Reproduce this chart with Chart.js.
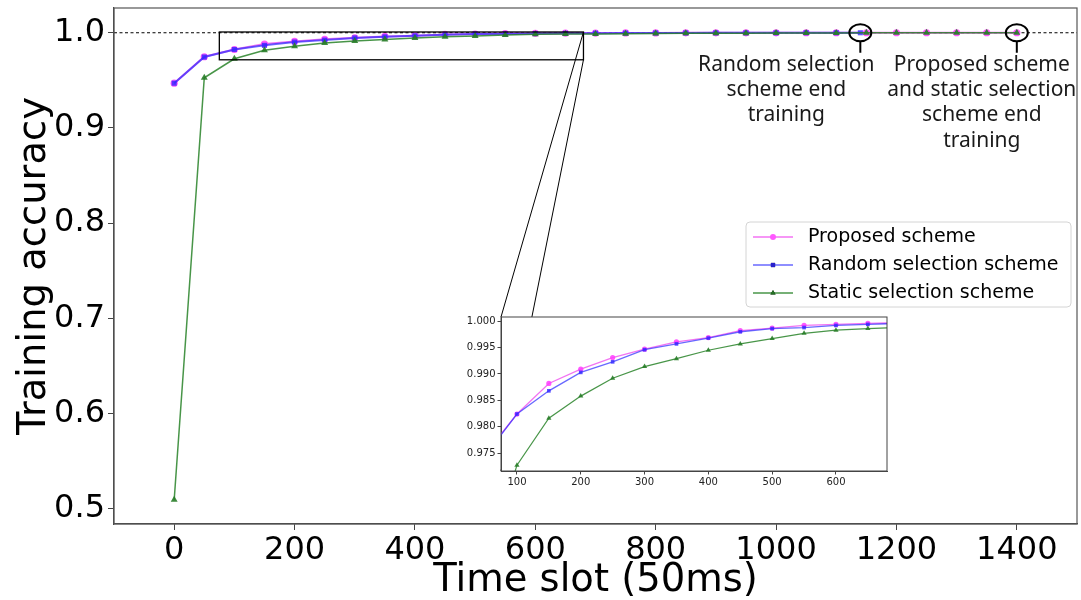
<!DOCTYPE html>
<html lang="en">
<head>
<meta charset="UTF-8">
<title>Training accuracy</title>
<script src="https://cdn.jsdelivr.net/npm/chart.js"></script>
<style>
  body { margin: 0; background: #fff; }
  #wrap { position: relative; width: 1081px; height: 600px; }
  #mainChart { position: absolute; left: 0; top: 0; }
  #insetChart { position: absolute; left: 451px; top: 310px; }
</style>
</head>
<body>
<div id="wrap">
  <canvas id="mainChart" width="1081" height="600"></canvas>
  <canvas id="insetChart" width="440" height="185"></canvas>
</div>
<script>
// time slots (50ms) for each series
const proposedSlots = [0, 50, 100, 150, 200, 250, 300, 350, 400, 450, 500, 550, 600, 650, 700,
  750, 800, 850, 900, 950, 1000, 1050, 1100, 1150, 1200, 1250, 1300, 1350, 1400];
const randomSlots = [0, 50, 100, 150, 200, 250, 300, 350, 400, 450, 500, 550, 600, 650, 700,
  750, 800, 850, 900, 950, 1000, 1050, 1100, 1140];
const staticSlots = proposedSlots;

// training accuracy
const proposed = [0.9470, 0.9748, 0.9824, 0.9882, 0.9909, 0.9931, 0.9947, 0.9961, 0.9969, 0.9982,
  0.9987, 0.9992, 0.9994, 0.9996, 0.9997, 0.9998, 0.9998, 0.9999, 0.9999, 0.9999, 0.9999, 1.0000,
  1.0000, 1.0000, 1.0000, 1.0000, 1.0000, 1.0000, 1.0000];
const randomSel = [0.9470, 0.9745, 0.9824, 0.9868, 0.9903, 0.9923, 0.9946, 0.9957, 0.9968, 0.9980,
  0.9986, 0.9988, 0.9992, 0.9994, 0.9996, 0.9997, 0.9998, 0.9998, 0.9999, 0.9999, 0.9999, 1.0000,
  1.0000, 1.0000];
const staticSel = [0.5095, 0.9527, 0.9727, 0.9816, 0.9858, 0.9892, 0.9914, 0.9929, 0.9945, 0.9957,
  0.9967, 0.9977, 0.9983, 0.9986, 0.9988, 0.9990, 0.9992, 0.9994, 0.9995, 0.9996, 0.9997, 0.9998,
  0.9998, 0.9999, 0.9999, 0.9999, 1.0000, 1.0000, 1.0000];

const seriesNames = ['Proposed scheme', 'Random selection scheme', 'Static selection scheme'];

const xTicks = [0, 200, 400, 600, 800, 1000, 1200, 1400];
const yTicks = [0.5, 0.6, 0.7, 0.8, 0.9, 1.0];
const insetXTicks = [100, 200, 300, 400, 500, 600];
const insetYTicks = [0.975, 0.980, 0.985, 0.990, 0.995, 1.000];

// zoomed region shown in the inset
const zoomX = [75, 680];
const zoomY = [0.9716, 1.0008];

// end of training markers
const endNotes = [
  { x: 1140, y: 1.0, lines: ['Random selection', 'scheme end', 'training'], dx: -74 },
  { x: 1400, y: 1.0, lines: ['Proposed scheme', 'and static selection', 'scheme end', 'training'], dx: -35 }
];

const pts = (xs, ys) => ys.map((v, i) => ({ x: xs[i], y: v }));

function makeDatasets(small) {
  const r = small ? 2.6 : 3.6;
  return [
    {
      label: seriesNames[0], data: pts(proposedSlots, proposed),
      borderColor: 'rgba(240, 90, 240, 0.85)', backgroundColor: 'rgba(255, 60, 255, 0.85)',
      pointStyle: 'circle', pointRadius: r, pointBorderWidth: 0,
      borderWidth: small ? 1.3 : 2, order: 3
    },
    {
      label: seriesNames[1], data: pts(randomSlots, randomSel),
      borderColor: 'rgba(40, 40, 255, 0.7)', backgroundColor: 'rgba(50, 40, 255, 0.8)',
      pointStyle: 'rect', pointRadius: r, pointBorderWidth: 0,
      borderWidth: small ? 1.3 : 2, order: 2
    },
    {
      label: seriesNames[2], data: pts(staticSlots, staticSel),
      borderColor: 'rgba(40, 130, 40, 0.85)', backgroundColor: 'rgba(40, 125, 40, 0.9)',
      pointStyle: 'triangle', pointRadius: small ? 3 : 4, pointBorderWidth: 0,
      borderWidth: small ? 1.2 : 1.5, order: 1
    }
  ];
}

// drop the extra room Chart.js keeps for labels at the axis ends
function noEdgePadding(s) {
  s.paddingTop = 0; s.paddingBottom = 0; s.paddingLeft = 0; s.paddingRight = 0;
}

// ---------- inset ----------
const insetFrame = {
  id: 'insetFrame',
  beforeDraw(chart) {
    const a = chart.chartArea, ctx = chart.ctx;
    ctx.save();
    ctx.fillStyle = '#fff';
    ctx.fillRect(a.left, a.top, a.right - a.left, a.bottom - a.top);
    ctx.restore();
  },
  afterDraw(chart) {
    const a = chart.chartArea, ctx = chart.ctx;
    ctx.save();
    ctx.strokeStyle = '#444';
    ctx.lineWidth = 1;
    ctx.strokeRect(a.left, a.top, a.right - a.left, a.bottom - a.top);
    ctx.restore();
  }
};

const insetChart = new Chart(document.getElementById('insetChart'), {
  type: 'line',
  data: { datasets: makeDatasets(true) },
  options: {
    responsive: false,
    animation: false,
    layout: { padding: { top: 7, right: 4, left: 0, bottom: 0 } },
    plugins: { legend: { display: false }, tooltip: { enabled: false } },
    scales: {
      x: {
        type: 'linear', min: zoomX[0], max: zoomX[1],
        afterBuildTicks: s => { s.ticks = insetXTicks.map(v => ({ value: v })); },
        afterFit: s => { s.height = 24; noEdgePadding(s); },
        ticks: { font: { family: 'DejaVu Sans', size: 10 }, color: '#222', padding: 2, maxRotation: 0,
          callback: v => String(v) },
        grid: { drawOnChartArea: false, tickLength: 3.5, color: '#444' },
        border: { color: '#444' }
      },
      y: {
        type: 'linear', min: zoomY[0], max: zoomY[1],
        afterBuildTicks: s => { s.ticks = insetYTicks.map(v => ({ value: v })); },
        afterFit: s => { s.width = 50; noEdgePadding(s); },
        ticks: { font: { family: 'DejaVu Sans', size: 10 }, color: '#222', padding: 2,
          callback: v => v.toFixed(3) },
        grid: { drawOnChartArea: false, tickLength: 3.5, color: '#444' },
        border: { color: '#444' }
      }
    }
  },
  plugins: [insetFrame]
});

// ---------- main chart ----------
const mainExtras = {
  id: 'mainExtras',
  beforeDatasetsDraw(chart) {
    const { ctx, chartArea: a, scales: { y } } = chart;
    const yy = y.getPixelForValue(1.0);
    ctx.save();
    ctx.strokeStyle = '#000';
    ctx.lineWidth = 1;
    ctx.setLineDash([3, 2.5]);
    ctx.beginPath();
    ctx.moveTo(a.left, yy);
    ctx.lineTo(a.right, yy);
    ctx.stroke();
    ctx.restore();
  },
  afterDraw(chart) {
    const { ctx, chartArea: a, scales: { x, y } } = chart;
    ctx.save();

    // top/right spines
    ctx.strokeStyle = '#555';
    ctx.lineWidth = 1.2;
    ctx.strokeRect(a.left, a.top, a.right - a.left, a.bottom - a.top);

    // zoom box and connectors to the inset
    const bx0 = x.getPixelForValue(zoomX[0]), bx1 = x.getPixelForValue(zoomX[1]);
    const by0 = y.getPixelForValue(zoomY[1]), by1 = y.getPixelForValue(zoomY[0]);
    ctx.strokeStyle = '#000';
    ctx.lineWidth = 1.3;
    ctx.strokeRect(bx0, by0, bx1 - bx0, by1 - by0);
    const ic = insetChart.canvas, ia = insetChart.chartArea;
    const il = ic.offsetLeft + ia.left, it = ic.offsetTop + ia.top, ib = ic.offsetTop + ia.bottom;
    ctx.lineWidth = 1;
    ctx.beginPath();
    ctx.moveTo(bx1, by0); ctx.lineTo(il, it);
    ctx.moveTo(bx1, by1); ctx.lineTo(il, ib);
    ctx.stroke();

    // end-of-training circles and notes
    endNotes.forEach(n => {
      const px = x.getPixelForValue(n.x), py = y.getPixelForValue(n.y);
      ctx.strokeStyle = '#000';
      ctx.lineWidth = 2;
      ctx.beginPath();
      ctx.ellipse(px, py, 11, 8.5, 0, 0, Math.PI * 2);
      ctx.stroke();
      ctx.beginPath();
      ctx.moveTo(px, py + 8.5);
      ctx.lineTo(px, py + 20);
      ctx.stroke();
      ctx.fillStyle = '#1a1a1a';
      ctx.font = '21px "Noto Sans"';
      ctx.textAlign = 'center';
      ctx.textBaseline = 'middle';
      n.lines.forEach((t, i) => ctx.fillText(t, px + n.dx, py + 32 + i * 25.3));
    });

    // legend
    const lx = 746, ly = 222, lw = 325, lh = 85;
    ctx.fillStyle = 'rgba(255,255,255,0.85)';
    ctx.strokeStyle = '#d4d4d4';
    ctx.lineWidth = 1;
    ctx.beginPath();
    ctx.roundRect(lx, ly, lw, lh, 4);
    ctx.fill();
    ctx.stroke();
    chart.data.datasets.forEach((ds, i) => {
      const ry = ly + 15 + i * 28;
      ctx.strokeStyle = ds.borderColor;
      ctx.lineWidth = 1.5;
      ctx.beginPath();
      ctx.moveTo(lx + 7, ry); ctx.lineTo(lx + 47, ry);
      ctx.stroke();
      Chart.helpers.drawPoint(ctx, { pointStyle: ds.pointStyle, radius: 3, borderWidth: 0,
        rotation: 0 }, lx + 27, ry);
      ctx.fillStyle = ds.backgroundColor;
      ctx.fill();
      ctx.fillStyle = '#000';
      ctx.font = '19px "DejaVu Sans"';
      ctx.textAlign = 'left';
      ctx.textBaseline = 'middle';
      ctx.fillText(ds.label, lx + 62, ry);
    });
    ctx.restore();
  }
};

new Chart(document.getElementById('mainChart'), {
  type: 'line',
  data: { datasets: makeDatasets(false) },
  options: {
    responsive: false,
    animation: false,
    layout: { padding: { top: 8, right: 3, left: 0, bottom: 0 } },
    plugins: { legend: { display: false }, tooltip: { enabled: false } },
    scales: {
      x: {
        type: 'linear', min: -100, max: 1500,
        afterBuildTicks: s => { s.ticks = xTicks.map(v => ({ value: v })); },
        afterFit: s => { s.height = 76; noEdgePadding(s); },
        ticks: { font: { family: 'DejaVu Sans', size: 32 }, color: '#000', padding: 1, maxRotation: 0,
          callback: v => String(v) },
        grid: { drawOnChartArea: false, tickLength: 6, color: '#444' },
        border: { color: '#444', width: 1.2 },
        title: { display: true, text: 'Time slot (50ms)', color: '#000',
          font: { family: 'DejaVu Sans', size: 38.5, lineHeight: 1 }, padding: 0 }
      },
      y: {
        type: 'linear', min: 0.484, max: 1.026,
        afterBuildTicks: s => { s.ticks = yTicks.map(v => ({ value: v })); },
        afterFit: s => { s.width = 114; noEdgePadding(s); },
        ticks: { font: { family: 'DejaVu Sans', size: 32 }, color: '#000', padding: 3,
          callback: v => v.toFixed(1) },
        grid: { drawOnChartArea: false, tickLength: 6, color: '#444' },
        border: { color: '#444', width: 1.2 },
        title: { display: true, text: 'Training accuracy', color: '#000',
          font: { family: 'DejaVu Sans', size: 38.5, lineHeight: 1 }, padding: { top: 16, bottom: 0 } }
      }
    }
  },
  plugins: [mainExtras]
});
</script>
</body>
</html>
